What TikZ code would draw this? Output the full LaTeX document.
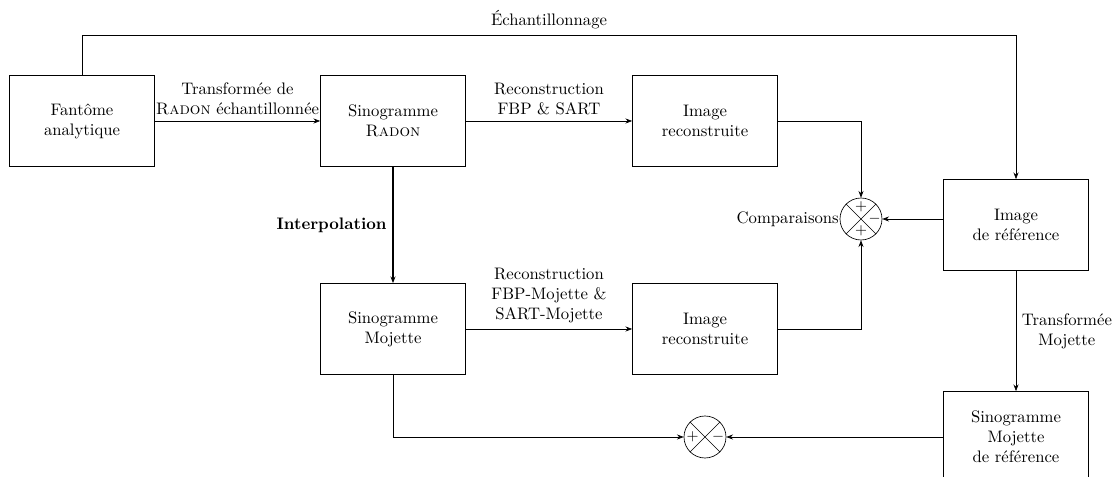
\documentclass[tikz,border=0pt]{standalone}
\usetikzlibrary{arrows.meta, positioning, calc}

\begin{document}
\begin{tikzpicture}[
    x=0.6pt, y=-0.6pt,
    >={Stealth[length=4pt, width=3pt]},
    bloc/.style={draw, rectangle, minimum width=87pt, minimum height=54.6pt, align=center, inner sep=2pt},
    somme/.style={draw, circle, minimum size=25.2pt, inner sep=0pt},
    signe/.style={font=\small, inner sep=0pt}
  ]

  \useasboundingbox (0,0) rectangle (1115,477);

  % Blocs
  \node[bloc] (fantome) at (82,121) {Fantôme\\analytique};
  \node[bloc] (sinoR) at (393,121) {Sinogramme\\\textsc{Radon}};
  \node[bloc] (recR) at (705,121) {Image\\reconstruite};
  \node[bloc] (ref) at (1016,225) {Image\\de référence};
  \node[bloc] (sinoM) at (393,329) {Sinogramme\\Mojette};
  \node[bloc] (recM) at (705,329) {Image\\reconstruite};
  \node[bloc] (sinoMref) at (1016,437) {Sinogramme\\Mojette\\de référence};

  % Comparateurs
  \node[somme] (cmp) at (861,219) {};
  \draw (cmp.north west) -- (cmp.south east) (cmp.north east) -- (cmp.south west);
  \node[signe] at ([yshift=7.2pt]cmp.center) {$+$};
  \node[signe] at ([yshift=-7.2pt]cmp.center) {$+$};
  \node[signe] at ([xshift=8.2pt]cmp.center) {$-$};
  \node[left=-3pt of cmp] (cmplabel) {Comparaisons};

  \node[somme] (diff) at (705,437) {};
  \draw (diff.north west) -- (diff.south east) (diff.north east) -- (diff.south west);
  \node[signe] at ([xshift=-7.4pt]diff.center) {$+$};
  \node[signe] at ([xshift=7.8pt]diff.center) {$-$};

  % Liaisons
  \draw[->] (fantome) -- node[above, align=center] {Transformée de\\\textsc{Radon} échantillonnée} (sinoR);
  \draw[->] (sinoR) -- node[above, align=center] {Reconstruction\\FBP \& SART} (recR);
  \draw[->] (recR.east) -| (cmp.north);
  \draw[->] (recM.east) -| (cmp.south);
  \draw[->] (ref.west |- cmp) -- (cmp.east);
  \draw[->, line width=1pt] (sinoR) -- node[left] {\textbf{Interpolation}} (sinoM);
  \draw[->] (sinoM) -- node[above, align=center] {Reconstruction\\FBP-Mojette \&\\SART-Mojette} (recM);
  \draw[->] (fantome.north) -- ++(0,-40) -| node[pos=0.25, above] {Échantillonnage} (ref.north);
  \draw[->] (ref) -- node[right, align=center] {Transformée\\Mojette} (sinoMref);
  \draw[->] (sinoMref) -- (diff);
  \draw[->] (sinoM.south) |- (diff.west);

\end{tikzpicture}
\end{document}
